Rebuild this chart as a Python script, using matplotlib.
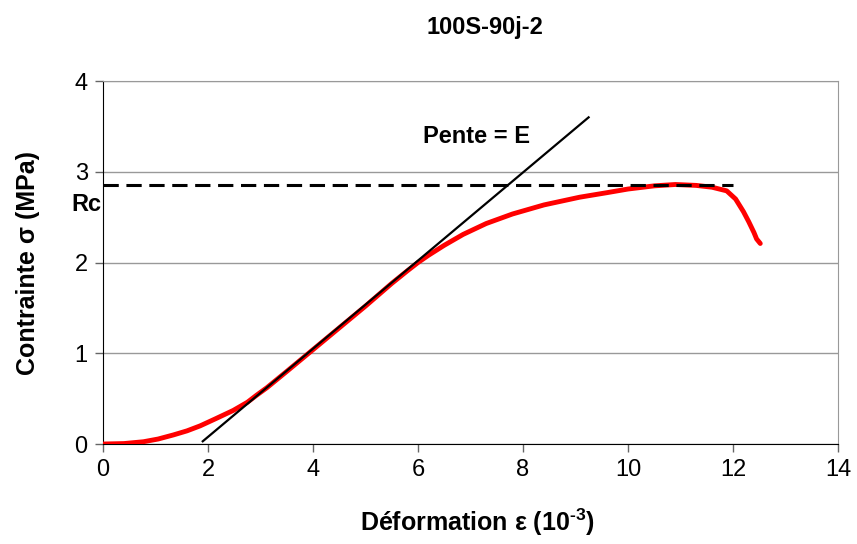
import matplotlib
matplotlib.use("Agg")
import matplotlib.pyplot as plt

plt.rcParams["font.family"] = ["Liberation Sans", "DejaVu Sans"]
plt.rcParams["mathtext.fontset"] = "custom"
plt.rcParams["mathtext.rm"] = "Liberation Sans:bold"
plt.rcParams["mathtext.bf"] = "Liberation Sans:bold"

# ── data ───────────────────────────────────────────────────────────────────
strain = [0.0, 0.4, 0.77, 1.05, 1.34, 1.6, 1.85, 2.15, 2.48, 2.75, 2.93,
          3.12, 3.5, 4.0, 4.5, 5.0, 5.5, 5.8, 6.0, 6.2, 6.5, 6.86, 7.3,
          7.8, 8.4, 9.08, 9.6, 10.0, 10.5, 10.9, 11.3, 11.6, 11.88, 12.05,
          12.2, 12.3, 12.4, 12.45, 12.52]
stress = [0.0, 0.005, 0.025, 0.055, 0.1, 0.145, 0.2, 0.28, 0.37, 0.46, 0.54,
          0.62, 0.8, 1.04, 1.28, 1.52, 1.77, 1.91, 2.0, 2.08, 2.19, 2.31,
          2.43, 2.535, 2.635, 2.72, 2.77, 2.81, 2.845, 2.86, 2.85, 2.83,
          2.79, 2.7, 2.56, 2.45, 2.33, 2.26, 2.21]
slope_x = [1.9, 9.25]
slope_y = [0.03, 3.6]
rc_x = [0.0, 12.0]
rc_val = 2.855

fig = plt.figure(figsize=(8.57, 5.44), dpi=100)
ax = fig.add_axes([0.1202, 0.1838, 0.8576, 0.6672])

ax.plot(strain, stress, color="#ff0000", lw=3.5, solid_capstyle="round",
        solid_joinstyle="round", zorder=3)
ax.plot(slope_x, slope_y, color="black", lw=1.6, zorder=4)
ax.plot(rc_x, [rc_val, rc_val], color="black", lw=2.2, ls=(0, (5, 2.5)), zorder=4)

ax.set_xlim(0, 14)
ax.set_ylim(0, 4)
ax.set_xticks(range(0, 15, 2))
ax.set_yticks(range(0, 5))
ax.yaxis.grid(True, color="#999999", lw=1)
ax.set_axisbelow(True)
for s in ("top", "right"):
    ax.spines[s].set_color("#999999")
for s in ("left", "bottom"):
    ax.spines[s].set_color("black")
ax.tick_params(direction="out", length=6, width=1, labelsize=17, pad=5,
               colors="#666666", labelcolor="black")

ax.set_xlabel(r"Déformation ε (10$^{\text{-3}}$)", fontsize=18,
              fontweight="bold")
ax.xaxis.set_label_coords(0.51, -0.172)
ax.set_ylabel("Contrainte σ (MPa)", fontsize=18, fontweight="bold")
ax.yaxis.set_label_coords(-0.086, 0.5)
fig.text(0.566, 0.95, "100S-90j-2", ha="center", va="center", fontsize=17,
         fontweight="bold")

ax.text(7.12, 3.39, "Pente = E", ha="center", va="center", fontsize=17,
        fontweight="bold")
ax.text(-0.02, 2.64, "Rc", ha="right", va="center", fontsize=17,
        fontweight="bold", clip_on=False)

fig.savefig("out.png", dpi=100)
